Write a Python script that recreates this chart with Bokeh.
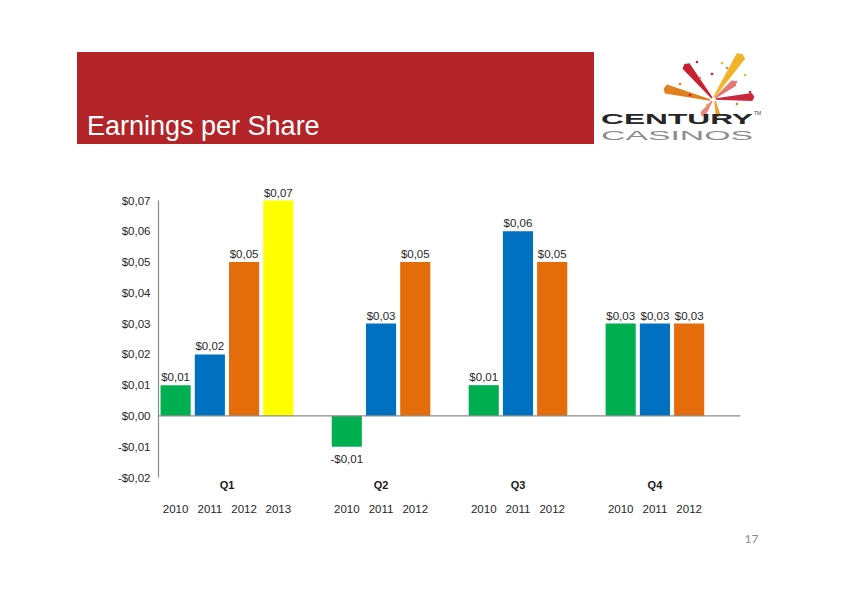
import math
from bokeh.plotting import figure
from bokeh.models import Range1d, FixedTicker, CustomJSTickFormatter, ColumnDataSource, Div
from bokeh.layouts import column
from bokeh.core.properties import value
from bokeh.embed import file_html
from bokeh.resources import INLINE

# ---------------- data ----------------
quarters = ["Q1", "Q2", "Q3", "Q4"]
q1_years = ["2010", "2011", "2012", "2013"]
q1_eps = [0.01, 0.02, 0.05, 0.07]
q2_years = ["2010", "2011", "2012"]
q2_eps = [-0.01, 0.03, 0.05]
q3_years = ["2010", "2011", "2012"]
q3_eps = [0.01, 0.06, 0.05]
q4_years = ["2010", "2011", "2012"]
q4_eps = [0.03, 0.03, 0.03]
y_ticks = [-0.02, -0.01, 0.0, 0.01, 0.02, 0.03, 0.04, 0.05, 0.06, 0.07]
title_text = "Earnings per Share"
page_number = "17"

year_colors = {"2010": "#00B050", "2011": "#0070C0", "2012": "#E46C0A", "2013": "#FFFF00"}
FONT = "Liberation Sans"


def fmt(v):
    s = ("%.2f" % abs(v)).replace(".", ",")
    return ("-$" if v < 0 else "$") + s


# ---------------- build bar table ----------------
groups = [(quarters[0], q1_years, q1_eps), (quarters[1], q2_years, q2_eps),
          (quarters[2], q3_years, q3_eps), (quarters[3], q4_years, q4_eps)]
xs, tops, cols, labels, yrs = [], [], [], [], []
q_x = []
slot = 0
for q, ys, vs in groups:
    start = slot
    for y, v in zip(ys, vs):
        xs.append(slot + 0.5)
        tops.append(v)
        cols.append(year_colors[y])
        labels.append(fmt(v))
        yrs.append(y)
        slot += 1
    q_x.append((start + slot) / 2.0)
    slot += 1  # gap slot
n_slots = slot

src = ColumnDataSource(dict(x=xs, top=tops, color=cols, label=labels, year=yrs))
pos = [i for i, v in enumerate(tops) if v >= 0]
neg = [i for i, v in enumerate(tops) if v < 0]
src_pos = ColumnDataSource(dict(x=[xs[i] for i in pos], y=[tops[i] for i in pos], label=[labels[i] for i in pos]))
src_neg = ColumnDataSource(dict(x=[xs[i] for i in neg], y=[tops[i] for i in neg], label=[labels[i] for i in neg]))

# ---------------- header (HTML/SVG div) ----------------
W, H = 842, 595
H_HEIGHT = 170

rays = [
    (714, 97, 741, 56, 1.5, 10, "#F0B429"),
    (712, 98, 686, 66, 1.5, 9, "#C8202F"),
    (710, 100, 666, 89, 1.5, 9, "#E2801F"),
    (716, 99, 752, 97, 1.5, 8, "#C8283A"),
    (715, 98, 734, 83, 1.5, 7, "#E37B74"),
    (712, 101, 703, 114, 1.5, 6, "#E58A7E"),
    (715, 101, 718, 115, 1.5, 5, "#F0A030"),
]
svg_parts = []
svg_parts.append('<rect x="77" y="52" width="517" height="92" fill="#B32428"/>')
svg_parts.append('<text x="87" y="135" fill="#FFFFFF" font-family="Liberation Sans, Arial, sans-serif" '
                 'font-size="27">%s</text>' % title_text)
for x0, y0, x1, y1, w0, w1, c in rays:
    dx, dy = x1 - x0, y1 - y0
    L = math.hypot(dx, dy)
    nx, ny = -dy / L, dx / L
    pts = [(x0 + nx * w0 / 2, y0 + ny * w0 / 2), (x1 + nx * w1 / 2, y1 + ny * w1 / 2),
           (x1 + dx / L * 2.5, y1 + dy / L * 2.5), (x1 - nx * w1 / 2, y1 - ny * w1 / 2),
           (x0 - nx * w0 / 2, y0 - ny * w0 / 2)]
    svg_parts.append('<polygon points="%s" fill="%s"/>' % (" ".join("%.1f,%.1f" % pt for pt in pts), c))
dots = [(697, 62, "#C8202F"), (722, 63, "#F0B429"), (712, 74, "#C8202F"), (727, 68, "#E37B74"),
        (680, 84, "#E2801F"), (736, 82, "#E37B74"), (750, 92, "#C8283A"), (707, 105, "#F0B429"),
        (737, 104, "#E2801F"), (700, 78, "#E37B74"), (745, 75, "#F0B429"), (690, 95, "#C8202F")]
for cx, cy, c in dots:
    svg_parts.append('<circle cx="%d" cy="%d" r="1.3" fill="%s"/>' % (cx, cy, c))
svg_parts.append('<text x="601" y="124" textLength="152" lengthAdjust="spacingAndGlyphs" '
                 'font-family="DejaVu Sans" font-weight="bold" font-size="14.5" fill="#262626">CENTURY</text>')
svg_parts.append('<text x="601" y="139.5" textLength="152" lengthAdjust="spacingAndGlyphs" '
                 'font-family="DejaVu Sans" font-size="12.5" fill="#8C8C8C">CASINOS</text>')
svg_parts.append('<text x="754" y="115" font-family="Liberation Sans" font-size="5" fill="#444444">TM</text>')

header_html = ('<svg xmlns="http://www.w3.org/2000/svg" width="%d" height="%d" '
               'style="display:block">%s</svg>' % (W, H_HEIGHT, "".join(svg_parts)))
header = Div(text=header_html, width=W, height=H_HEIGHT,
             styles={"margin": "0", "padding": "0", "overflow": "hidden"})

# ---------------- chart figure ----------------
PX_PER_UNIT = (477 - 200) / 0.09
frame_top_page, frame_bottom_page = 180, 575
left_px, right_px = 158, 770
slot_px = (740 - 158) / n_slots
y_top = 0.07 + (200 - frame_top_page) / PX_PER_UNIT
y_bot = -0.02 - (frame_bottom_page - 477) / PX_PER_UNIT
x_end = (right_px - left_px) / slot_px

p = figure(width=W, height=H - H_HEIGHT,
           x_range=Range1d(0, x_end), y_range=Range1d(y_bot, y_top),
           output_backend="svg", toolbar_location=None, x_axis_location=None,
           min_border_left=left_px, min_border_right=W - right_px,
           min_border_top=frame_top_page - H_HEIGHT, min_border_bottom=H - frame_bottom_page)
p.grid.visible = False
p.outline_line_color = None

yax = p.yaxis[0]
yax.ticker = FixedTicker(ticks=y_ticks)
yax.bounds = (y_ticks[0], y_ticks[-1])
yax.formatter = CustomJSTickFormatter(code="""
    const s = Math.abs(tick).toFixed(2).replace('.', ',');
    return (tick < -1e-9 ? '-$' : '$') + s;
""")
yax.axis_line_color = "#8C8C8C"
yax.axis_line_width = 1.2
yax.major_tick_line_color = None
yax.minor_tick_line_color = None
yax.major_tick_out = 0
yax.major_tick_in = 0
yax.major_label_standoff = 8
yax.major_label_text_font = FONT
yax.major_label_text_font_size = "11.5px"
yax.major_label_text_color = "#262626"

p.vbar(x="x", top="top", bottom=0, width=0.88, fill_color="color", line_color=None, source=src)
p.segment(x0=[0], y0=[0], x1=[n_slots], y1=[0], line_color="#8C8C8C", line_width=1.2)

p.text(x="x", y="y", text="label", source=src_pos, text_align="center", text_baseline="bottom",
       y_offset=-2, text_font=value(FONT), text_font_size="11.5px", text_color="#262626")
p.text(x="x", y="y", text="label", source=src_neg, text_align="center", text_baseline="top",
       y_offset=6, text_font=value(FONT), text_font_size="11.5px", text_color="#262626")

p.text(x=q_x, y=[y_ticks[0]] * len(q_x), text=quarters, text_align="center", text_baseline="middle",
       y_offset=7, text_font=value(FONT), text_font_size="11px", text_font_style="bold",
       text_color="#1a1a1a")
p.text(x="x", y=y_ticks[0], text="year", source=src, text_align="center", text_baseline="middle",
       y_offset=31, text_font=value(FONT), text_font_size="11.5px", text_color="#262626")

p.text(x=[(751 - left_px) / slot_px], y=[y_ticks[0]], text=[page_number], text_align="center",
       text_baseline="middle", y_offset=61, text_font=value("Lato"), text_font_size="12px",
       text_color="#8C8C8C")

layout = column(header, p, spacing=0)
open("out.html", "w").write(file_html(layout, INLINE))
